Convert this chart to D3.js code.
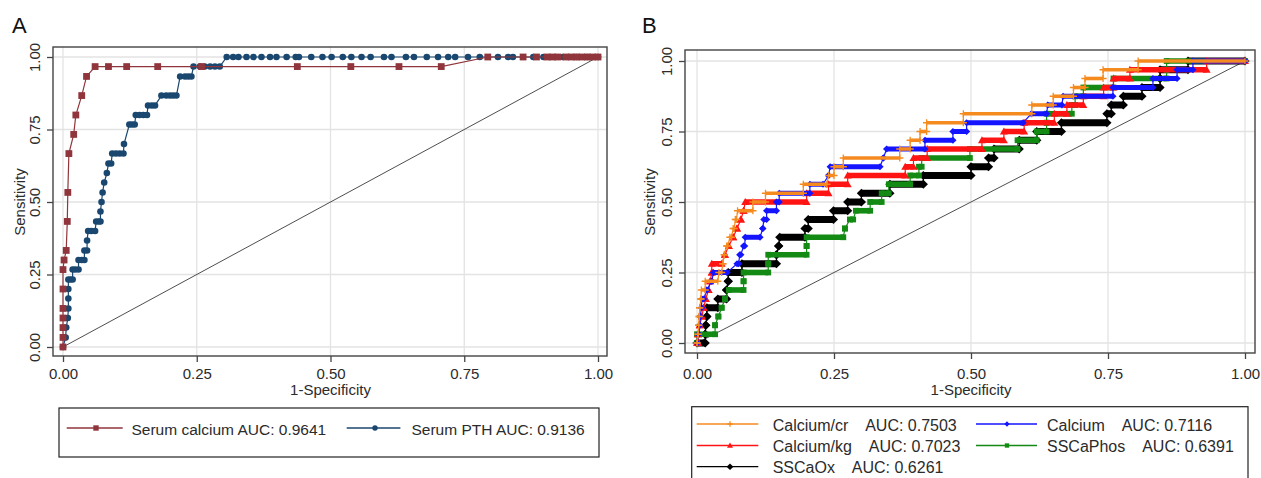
<!DOCTYPE html>
<html><head><meta charset="utf-8">
<script src="https://cdn.jsdelivr.net/npm/d3@7"></script>
<style>
body{margin:0;background:#fff;}
svg{display:block;font-family:"Liberation Sans",Arial,sans-serif;}
</style></head><body>
<svg id="chart" width="1261" height="478"></svg>
<script>
// ---------- shared axis data ----------
const tickValues = [0, 0.25, 0.5, 0.75, 1];
const tickLabels = ["0.00", "0.25", "0.50", "0.75", "1.00"];
const xTitle = "1-Specificity";
const yTitle = "Sensitivity";

// ---------- panel A ----------
const calciumX = [0,0,0,0,0,0,0,0.002,0.006,0.008,0.009,0.011,0.020,0.024,0.035,0.044,0.060,0.085,0.119,0.177,0.259,0.438,0.538,0.628,0.707,0.794,0.860,0.885,0.905,0.915,0.925,0.940,0.950,0.960,0.970,0.980,0.990,1.000];
const calciumY = [0,0.033,0.067,0.1,0.133,0.2,0.267,0.3,0.333,0.433,0.533,0.667,0.733,0.8,0.867,0.933,0.967,0.967,0.967,0.967,0.967,0.967,0.967,0.967,0.967,1,1,1,1,1,1,1,1,1,1,1,1,1];
const pthX = [0,0.005,0.006,0.009,0.010,0.010,0.010,0.010,0.014,0.018,0.018,0.023,0.029,0.029,0.035,0.040,0.040,0.045,0.045,0.047,0.053,0.060,0.062,0.067,0.070,0.070,0.072,0.074,0.077,0.082,0.085,0.090,0.092,0.099,0.106,0.113,0.114,0.124,0.129,0.134,0.136,0.143,0.150,0.157,0.159,0.166,0.172,0.184,0.193,0.200,0.206,0.212,0.219,0.228,0.234,0.240,0.244,0.256,0.265,0.275,0.284,0.293,0.306,0.318,0.328,0.343,0.356,0.371,0.387,0.399,0.418,0.435,0.441,0.464,0.485,0.502,0.523,0.539,0.558,0.575,0.600,0.614,0.641,0.656,0.680,0.701,0.720,0.733,0.757,0.779,0.813,0.832,0.841,0.879,0.898,0.935,0.960,0.980,1.000];
const pthY = [0,0.033,0.067,0.1,0.133,0.167,0.2,0.233,0.233,0.233,0.267,0.267,0.267,0.3,0.3,0.3,0.333,0.333,0.367,0.4,0.4,0.4,0.433,0.433,0.433,0.467,0.5,0.533,0.567,0.6,0.633,0.633,0.667,0.667,0.667,0.667,0.7,0.767,0.767,0.767,0.8,0.8,0.8,0.8,0.833,0.833,0.833,0.867,0.867,0.867,0.867,0.867,0.933,0.933,0.933,0.933,0.967,0.967,0.967,0.967,0.967,0.967,1,1,1,1,1,1,1,1,1,1,1,1,1,1,1,1,1,1,1,1,1,1,1,1,1,1,1,1,1,1,1,1,1,1,1,1,1];
const legendA = ["Serum calcium AUC: 0.9641", "Serum PTH AUC: 0.9136"];

// ---------- panel B (step levels; each level is a run from x0 to x1) ----------
const sensLevels = [0,0.031,0.063,0.094,0.125,0.156,0.188,0.219,0.25,0.281,0.313,0.344,0.375,0.406,0.438,0.469,0.5,0.531,0.563,0.594,0.625,0.656,0.688,0.719,0.75,0.781,0.813,0.844,0.875,0.906,0.938,0.969,1.0];
const calcCrX0 = [0,0.002,0.003,0.004,0.005,0.007,0.008,0.015,0.040,0.047,0.050,0.054,0.060,0.066,0.070,0.074,0.102,0.125,0.194,0.240,0.250,0.267,0.370,0.389,0.407,0.419,0.486,0.611,0.650,0.687,0.708,0.741,0.805];
const calcCrX1 = [0,0.002,0.003,0.004,0.005,0.007,0.015,0.038,0.045,0.047,0.050,0.056,0.063,0.068,0.072,0.102,0.125,0.194,0.237,0.250,0.267,0.370,0.389,0.407,0.419,0.486,0.611,0.650,0.687,0.708,0.741,0.805,1.0];
const calcX0 = [0,0.003,0.005,0.006,0.008,0.009,0.018,0.027,0.030,0.073,0.078,0.085,0.088,0.120,0.122,0.127,0.145,0.150,0.206,0.240,0.243,0.340,0.346,0.416,0.467,0.492,0.610,0.640,0.668,0.759,0.832,0.876,0.905];
const calcX1 = [0,0.003,0.005,0.006,0.008,0.012,0.018,0.027,0.055,0.076,0.080,0.087,0.115,0.120,0.127,0.145,0.150,0.206,0.230,0.240,0.334,0.340,0.416,0.467,0.492,0.595,0.638,0.666,0.759,0.832,0.876,0.905,1.0];
const calcKgX0 = [0,0.002,0.005,0.009,0.012,0.016,0.021,0.024,0.027,0.027,0.051,0.058,0.066,0.073,0.080,0.085,0.088,0.200,0.240,0.275,0.380,0.395,0.420,0.520,0.560,0.597,0.652,0.675,0.705,0.742,0.760,0.790,0.930];
const calcKgX1 = [0.002,0.002,0.005,0.009,0.012,0.016,0.021,0.024,0.027,0.045,0.051,0.058,0.066,0.073,0.080,0.085,0.200,0.240,0.275,0.380,0.395,0.420,0.520,0.560,0.597,0.652,0.675,0.705,0.742,0.760,0.790,0.930,1.0];
const phosX0 = [0,0,0.033,0.039,0.045,0.051,0.058,0.085,0.085,0.130,0.130,0.200,0.200,0.270,0.279,0.290,0.316,0.337,0.350,0.389,0.405,0.410,0.498,0.585,0.620,0.638,0.638,0.684,0.690,0.705,0.760,0.857,0.857];
const phosX1 = [0,0.033,0.033,0.039,0.045,0.051,0.085,0.085,0.130,0.130,0.200,0.200,0.267,0.270,0.285,0.316,0.337,0.350,0.389,0.405,0.410,0.498,0.585,0.620,0.638,0.638,0.684,0.690,0.705,0.760,0.857,0.857,1.0];
const oxX0 = [0,0.015,0.016,0.018,0.018,0.038,0.054,0.057,0.057,0.082,0.145,0.149,0.151,0.197,0.203,0.249,0.275,0.300,0.352,0.413,0.500,0.532,0.542,0.588,0.620,0.665,0.748,0.756,0.778,0.812,0.845,0.845,0.896];
const oxX1 = [0.015,0.015,0.016,0.018,0.038,0.054,0.054,0.057,0.082,0.145,0.145,0.149,0.197,0.203,0.249,0.275,0.300,0.352,0.413,0.500,0.532,0.542,0.588,0.620,0.665,0.748,0.756,0.778,0.812,0.845,0.845,0.896,1.0];
const seriesNamesB = ["Calcium/cr", "Calcium", "Calcium/kg", "SSCaPhos", "SSCaOx"];
const aucB = ["0.7503", "0.7116", "0.7023", "0.6391", "0.6261"];

// ---------- drawing ----------
const svg = d3.select("#chart");
svg.append("rect").attr("width",1261).attr("height",478).attr("fill","#fff");
const FONT = "'Liberation Sans', Arial, sans-serif";
const TXT = "#2b2b2b";

function makePanel(fr, xr, yr, opt) {
  const x = d3.scaleLinear().domain([0,1]).range(xr);
  const y = d3.scaleLinear().domain([0,1]).range(yr);
  const g = svg.append("g");
  g.selectAll(null).data(tickValues).join("line")
    .attr("x1", d=>x(d)).attr("x2", d=>x(d)).attr("y1", fr.top).attr("y2", fr.bottom)
    .attr("stroke","#e3e3e3").attr("stroke-width",1.3);
  g.selectAll(null).data(tickValues).join("line")
    .attr("y1", d=>y(d)).attr("y2", d=>y(d)).attr("x1", fr.left).attr("x2", fr.right)
    .attr("stroke","#e3e3e3").attr("stroke-width",1.3);
  const ax = g.append("g").attr("transform",`translate(0,${fr.bottom})`)
    .call(d3.axisBottom(x).tickValues(tickValues).tickFormat((d,i)=>tickLabels[i]).tickSize(6));
  const ay = g.append("g").attr("transform",`translate(${fr.left},0)`)
    .call(d3.axisLeft(y).tickValues(tickValues).tickFormat((d,i)=>tickLabels[i]).tickSize(6));
  [ax, ay].forEach(a => {
    a.attr("font-family", null).attr("font-size", null);
    a.select(".domain").remove();
    a.selectAll(".tick line").attr("stroke","#444").attr("stroke-width",1.3);
    a.selectAll(".tick text").attr("fill",TXT).attr("font-size","15px").attr("font-family",FONT);
  });
  ax.selectAll(".tick text").attr("y", opt.xLabOff).attr("dy", null);
  ay.selectAll(".tick text").attr("transform","rotate(-90)").attr("x",0).attr("y",-13).attr("dy",null).attr("text-anchor","middle");
  g.append("rect").attr("x",fr.left).attr("y",fr.top).attr("width",fr.right-fr.left).attr("height",fr.bottom-fr.top)
    .attr("fill","none").attr("stroke","#444").attr("stroke-width",1.4);
  g.append("text").attr("x", x(0.5)).attr("y", 395).attr("text-anchor","middle")
    .attr("font-size","15px").attr("fill",TXT).text(xTitle);
  g.append("text").attr("transform",`translate(${opt.yTitleX},${y(0.5)}) rotate(-90)`).attr("text-anchor","middle")
    .attr("font-size","15px").attr("fill",TXT).text(yTitle);
  g.append("text").attr("x", opt.letterX).attr("y", 33).attr("font-size","22px").attr("fill","#111").text(opt.letter);
  g.append("line").attr("x1",x(0)).attr("y1",y(0)).attr("x2",x(1)).attr("y2",y(1))
    .attr("stroke","#3a3a3a").attr("stroke-width",0.9);
  return {g, x, y};
}

// ----- Panel A -----
const A = makePanel({left:53, top:47, right:607, bottom:356}, [63,598], [347,57],
  {xLabOff:22.5, yTitleX:25, letterX:12, letter:"A"});
const colCa = "#90353b", colPth = "#1a476f";
const ptsCa = calciumX.map((v,i)=>[v, calciumY[i]]);
const ptsPth = pthX.map((v,i)=>[v, pthY[i]]);
const lineA = d3.line().x(d=>A.x(d[0])).y(d=>A.y(d[1]));
A.g.append("path").attr("d", lineA(ptsPth)).attr("fill","none").attr("stroke",colPth).attr("stroke-width",1.2);
A.g.selectAll(null).data(ptsPth).join("circle")
  .attr("cx",d=>A.x(d[0])).attr("cy",d=>A.y(d[1])).attr("r",3.3).attr("fill",colPth);
A.g.append("path").attr("d", lineA(ptsCa)).attr("fill","none").attr("stroke",colCa).attr("stroke-width",1.2);
A.g.selectAll(null).data(ptsCa).join("rect")
  .attr("x",d=>A.x(d[0])-3.4).attr("y",d=>A.y(d[1])-3.4).attr("width",6.8).attr("height",6.8).attr("fill",colCa);

// legend A
const legA = svg.append("g");
legA.append("rect").attr("x",59).attr("y",408).attr("width",540).attr("height",49)
  .attr("fill","none").attr("stroke","#222").attr("stroke-width",1.2);
legA.append("line").attr("x1",66.7).attr("x2",122.7).attr("y1",428).attr("y2",428).attr("stroke",colCa).attr("stroke-width",1.3);
legA.append("rect").attr("x",93.3).attr("y",425.3).attr("width",5.4).attr("height",5.4).attr("fill",colCa);
legA.append("text").attr("x",131.5).attr("y",435).attr("font-size","15.5px").attr("fill",TXT).text(legendA[0]);
legA.append("line").attr("x1",346.7).attr("x2",400.4).attr("y1",428).attr("y2",428).attr("stroke",colPth).attr("stroke-width",1.3);
legA.append("circle").attr("cx",375).attr("cy",428).attr("r",2.7).attr("fill",colPth);
legA.append("text").attr("x",411.5).attr("y",435).attr("font-size","15.5px").attr("fill",TXT).text(legendA[1]);

// ----- Panel B -----
const B = makePanel({left:685, top:50, right:1255, bottom:353}, [697,1245], [343,61],
  {xLabOff:25.5, yTitleX:655, letterX:642, letter:"B"});

const markers = {
  plus: s => `M${-3.6*s},0H${3.6*s}M0,${-3.6*s}V${3.6*s}`,
  diamond: s => `M0,${-3.6*s}L${3.6*s},0L0,${3.6*s}L${-3.6*s},0Z`,
  triangle: s => `M0,${-4*s}L${4*s},${2.9*s}L${-4*s},${2.9*s}Z`,
  square: s => `M${-2.9*s},${-2.9*s}h${5.8*s}v${5.8*s}h${-5.8*s}Z`,
  bigdiamond: s => `M0,${-4.4*s}L${4.6*s},0L0,${4.4*s}L${-4.6*s},0Z`
};
const seriesB = [
  {x0: calcCrX0, x1: calcCrX1, color:"#f58a1f", marker:"plus", band:3.6},
  {x0: calcX0,   x1: calcX1,   color:"#1414ff", marker:"diamond", band:5},
  {x0: calcKgX0, x1: calcKgX1, color:"#ff1414", marker:"triangle", band:5.5},
  {x0: phosX0,   x1: phosX1,   color:"#138a13", marker:"square", band:5.6},
  {x0: oxX0,     x1: oxX1,     color:"#000000", marker:"bigdiamond", band:7}
];
function markerAttr(sel, s, size) {
  const isPlus = s.marker === "plus";
  sel.attr("d", markers[s.marker](size))
    .attr("fill", isPlus ? "none" : s.color)
    .attr("stroke", isPlus ? s.color : "none")
    .attr("stroke-width", isPlus ? 1.3 : 0);
}
const lineB = d3.line().x(d=>B.x(d[0])).y(d=>B.y(d[1]));
seriesB.slice().reverse().forEach(s => {
  const verts = [];
  sensLevels.forEach((lv,i) => { verts.push([s.x0[i], lv]); verts.push([s.x1[i], lv]); });
  const sg = B.g.append("g");
  sg.append("path").attr("d", lineB(verts)).attr("fill","none").attr("stroke",s.color).attr("stroke-width",1.2);
  const runs = sensLevels.map((lv,i)=>({a:s.x0[i], b:s.x1[i], y:lv})).filter(r => r.b > r.a);
  sg.selectAll(null).data(runs).join("line")
    .attr("x1",d=>B.x(d.a)).attr("x2",d=>B.x(d.b)).attr("y1",d=>B.y(d.y)).attr("y2",d=>B.y(d.y))
    .attr("stroke",s.color).attr("stroke-width",s.band);
  sg.selectAll(null).data(verts).join("path")
    .attr("transform",d=>`translate(${B.x(d[0])},${B.y(d[1])})`)
    .call(sel => markerAttr(sel, s, 1));
});

// legend B
const legB = svg.append("g");
legB.append("rect").attr("x",691.7).attr("y",406.7).attr("width",556.3).attr("height",90)
  .attr("fill","none").attr("stroke","#222").attr("stroke-width",1.2);
const legPos = [
  {lx0:696.7, lx1:758.3, mx:730, tx:772.7, ly:424, ty:431},
  {lx0:976, lx1:1037, mx:1007, tx:1047, ly:424, ty:431},
  {lx0:696.7, lx1:758.3, mx:730, tx:772.7, ly:445.5, ty:452},
  {lx0:976, lx1:1037, mx:1007, tx:1047, ly:445.5, ty:452},
  {lx0:696.7, lx1:758.3, mx:730, tx:772.7, ly:466.7, ty:472.5}
];
seriesB.forEach((s,i) => {
  const p = legPos[i];
  legB.append("line").attr("x1",p.lx0).attr("x2",p.lx1).attr("y1",p.ly).attr("y2",p.ly)
    .attr("stroke",s.color).attr("stroke-width",1.3);
  legB.append("path").attr("transform",`translate(${p.mx},${p.ly})`).call(sel => markerAttr(sel, s, 0.75));
  legB.append("text").attr("x",p.tx).attr("y",p.ty).attr("font-size","16px").attr("fill",TXT)
    .attr("xml:space","preserve").style("white-space","pre")
    .text(seriesNamesB[i] + "    AUC: " + aucB[i]);
});
</script></body></html>
